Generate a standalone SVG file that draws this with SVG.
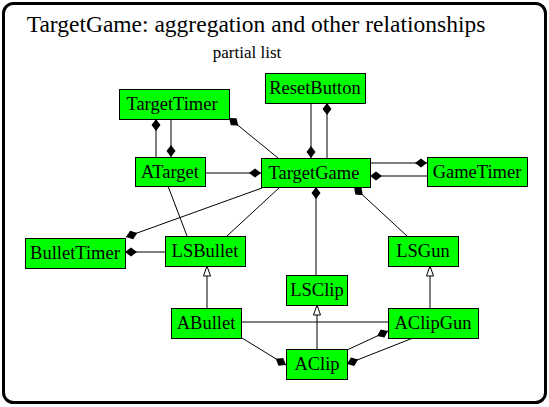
<svg xmlns="http://www.w3.org/2000/svg" width="549" height="407" viewBox="0 0 549 407">
<style>
.node rect{fill:#00ff00;stroke:#000;stroke-width:1}
.node text{font-family:"Liberation Serif",serif;font-size:18.5px;fill:#000;text-anchor:middle}
.c path{fill:none;stroke:#000;stroke-width:1}
.agg{marker-end:url(#dia)}
.gen{marker-end:url(#tri)}
</style>
<defs>
<marker id="dia" markerUnits="userSpaceOnUse" viewBox="0 -5 12 10" refX="12" refY="0" markerWidth="12" markerHeight="10" orient="auto">
<path d="M0,0 L6,-4.5 L12,0 L6,4.5 Z" fill="#000" stroke="none"/>
</marker>
<marker id="tri" markerUnits="userSpaceOnUse" viewBox="0 -5 11 10" refX="10.5" refY="0" markerWidth="11" markerHeight="10" orient="auto">
<path d="M0.5,-3.5 L10.5,0 L0.5,3.5 Z" fill="#fff" stroke="#000" stroke-width="1"/>
</marker>
</defs>
<rect x="0" y="0" width="549" height="407" fill="#fff"/>
<rect x="3.5" y="3.5" width="542" height="399" rx="10" fill="none" stroke="#000" stroke-width="3"/>
<text x="256" y="32" font-family="Liberation Serif,serif" font-size="23.5" text-anchor="middle">TargetGame: aggregation and other relationships</text>
<text x="247" y="58" font-family="Liberation Serif,serif" font-size="17" text-anchor="middle">partial list</text>
<g class="c" id="connectors">
<path class="agg" d="M156,157 L156,119"/>
<path class="agg" d="M171,119 L171,157"/>
<path class="agg" d="M278,158 L229,118"/>
<path class="agg" d="M205,173 L261,173"/>
<path class="agg" d="M311,103 L311,158"/>
<path class="agg" d="M327,158 L327,103"/>
<path class="agg" d="M370,163 L427,163"/>
<path class="agg" d="M427,176 L370,176"/>
<path class="agg" d="M262,188 L126,237"/>
<path d="M280,187 L227,236"/>
<path d="M168,186 L187,236"/>
<path class="agg" d="M165,252 L125,252"/>
<path class="agg" d="M316,275 L316,187"/>
<path class="agg" d="M407,236 L354,187"/>
<path class="gen" d="M207,308 L207,266"/>
<path class="gen" d="M430,308 L430,266"/>
<path class="gen" d="M317,349 L317,305"/>
<path d="M241,322 L388,322"/>
<path class="agg" d="M242,338 L286,365"/>
<path class="agg" d="M347,350 L388,331"/>
<path class="agg" d="M413,338 L347,364"/>
</g>
<g class="node" id="TargetTimer"><rect x="119.5" y="89.5" width="110" height="30"/><text x="172" y="110">TargetTimer</text></g>
<g class="node" id="ResetButton"><rect x="265.5" y="73.5" width="100" height="30"/><text x="315" y="94">ResetButton</text></g>
<g class="node" id="ATarget"><rect x="135.5" y="157.5" width="70" height="29"/><text x="170" y="178">ATarget</text></g>
<g class="node" id="TargetGame"><rect x="261.5" y="158.5" width="109" height="29"/><text x="314" y="179">TargetGame</text></g>
<g class="node" id="GameTimer"><rect x="427.5" y="157.5" width="100" height="29"/><text x="477" y="178">GameTimer</text></g>
<g class="node" id="BulletTimer"><rect x="25.5" y="238.5" width="100" height="30"/><text x="75" y="259">BulletTimer</text></g>
<g class="node" id="LSBullet"><rect x="165.5" y="236.5" width="80" height="30"/><text x="205" y="257">LSBullet</text></g>
<g class="node" id="LSGun"><rect x="388.5" y="236.5" width="70" height="30"/><text x="423" y="257">LSGun</text></g>
<g class="node" id="LSClip"><rect x="286.5" y="275.5" width="61" height="30"/><text x="317" y="296">LSClip</text></g>
<g class="node" id="ABullet"><rect x="171.5" y="308.5" width="70" height="30"/><text x="206" y="329">ABullet</text></g>
<g class="node" id="AClipGun"><rect x="388.5" y="308.5" width="90" height="30"/><text x="433" y="329">AClipGun</text></g>
<g class="node" id="AClip"><rect x="286.5" y="349.5" width="61" height="30"/><text x="317" y="370">AClip</text></g>
</svg>
